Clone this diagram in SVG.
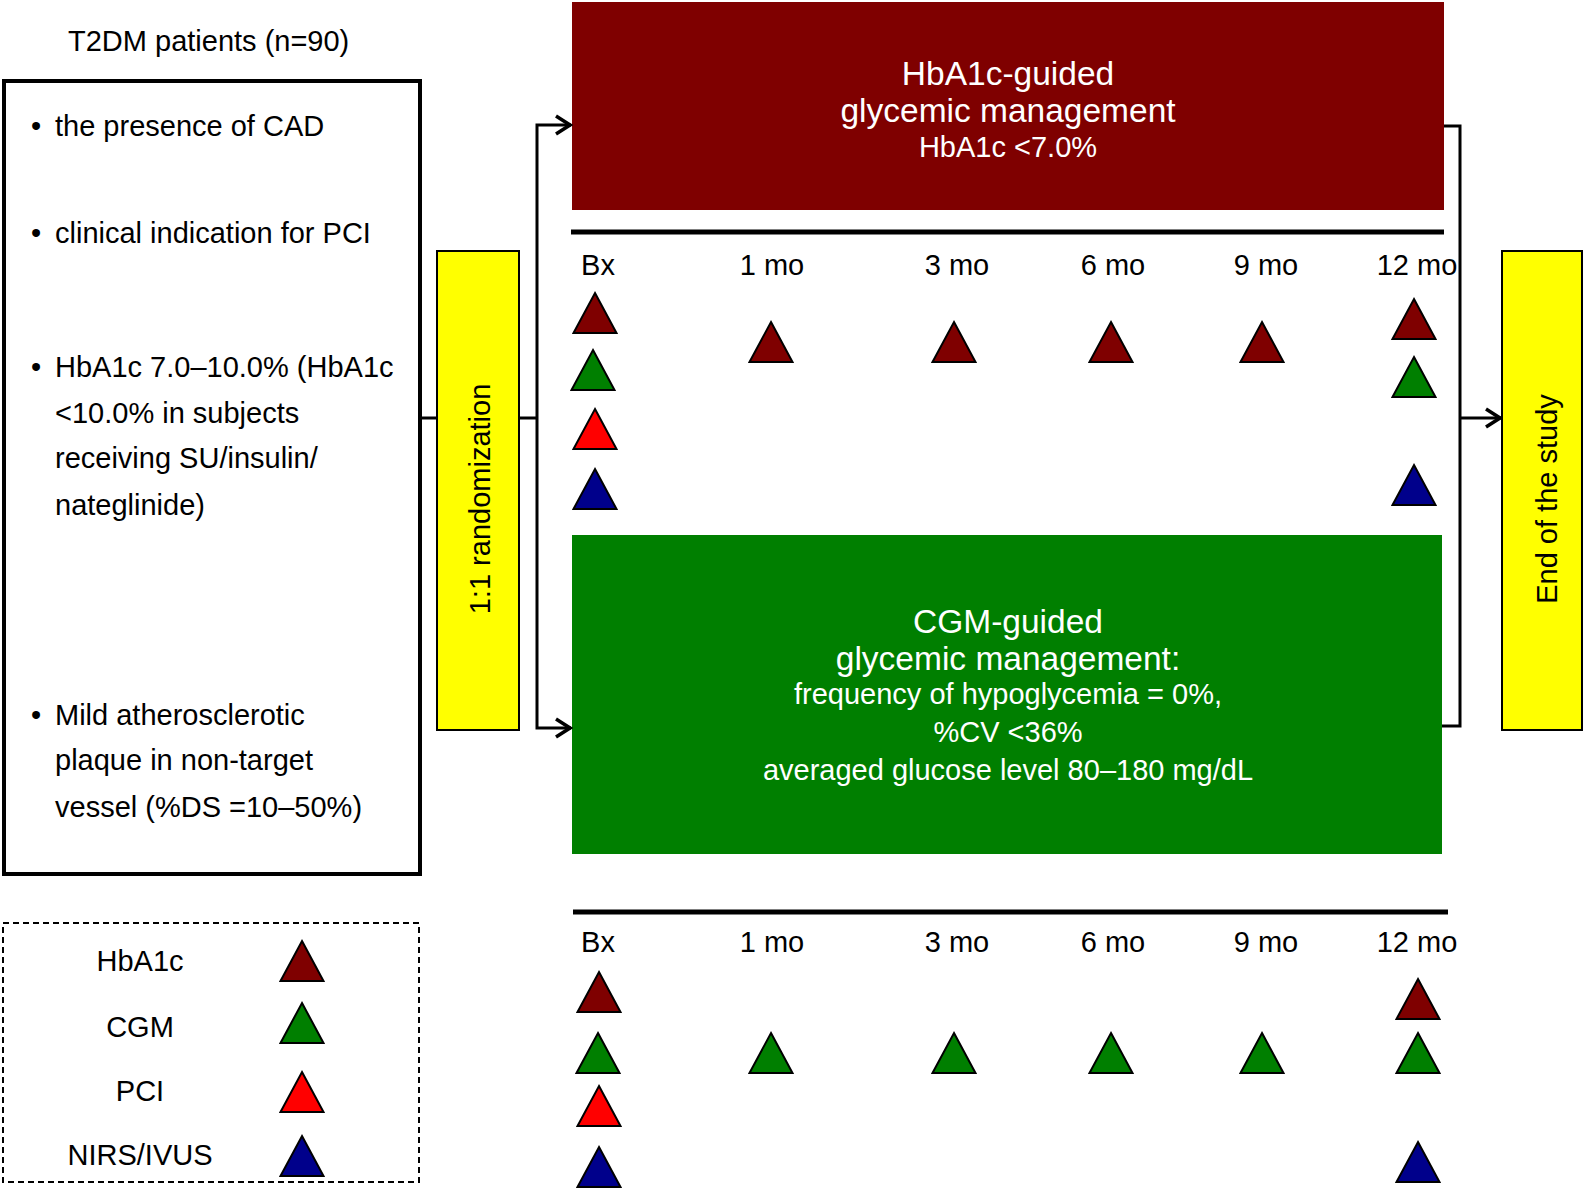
<svg xmlns="http://www.w3.org/2000/svg" xmlns:xlink="http://www.w3.org/1999/xlink" width="1584" height="1192" viewBox="0 0 1584 1192">
<style>
text{font-family:"Liberation Sans",Arial,Helvetica,sans-serif;fill:#000}
.t{font-size:29px}
.big{font-size:33.5px;fill:#fff}
.mid{font-size:29px;fill:#fff}
.c{text-anchor:middle}
.conn{fill:none;stroke:#000;stroke-width:3}
.yel{fill:#ffff00;stroke:#000;stroke-width:2}
.hb{fill:#7f0000}.cg{fill:#007f00}.pc{fill:#ff0000}.nv{fill:#00008b}
.tri{stroke:#000;stroke-width:2;stroke-linejoin:miter}
</style>
<defs>
<path id="tri" class="tri" d="M0,-40 L21.5,0 L-21.5,0 Z"/>
<marker id="arr" markerUnits="userSpaceOnUse" markerWidth="20" markerHeight="24" viewBox="0 0 20 24" refX="18" refY="12" orient="auto">
<path d="M3,3 L17,12 L3,21" fill="none" stroke="#000" stroke-width="3.5"/>
</marker>
</defs>
<rect width="1584" height="1192" fill="#fff"/>

<g id="patients">
<text class="t" x="68" y="51">T2DM patients (n=90)</text>
<rect x="4" y="81" width="416" height="793" fill="none" stroke="#000" stroke-width="4"/>
<text class="t" x="31" y="136">•</text>
<text class="t" x="55" y="136">the presence of CAD</text>
<text class="t" x="31" y="243">•</text>
<text class="t" x="55" y="243">clinical indication for PCI</text>
<text class="t" x="31" y="377">•</text>
<text class="t" x="55" y="377">HbA1c 7.0–10.0% (HbA1c</text>
<text class="t" x="55" y="423">&lt;10.0% in subjects</text>
<text class="t" x="55" y="468">receiving SU/insulin/</text>
<text class="t" x="55" y="515">nateglinide)</text>
<text class="t" x="31" y="725">•</text>
<text class="t" x="55" y="725">Mild atherosclerotic</text>
<text class="t" x="55" y="770">plaque in non-target</text>
<text class="t" x="55" y="817">vessel (%DS =10–50%)</text>
</g>

<g id="randomization">
<rect class="yel" x="437" y="251" width="82" height="479"/>
<text class="t c" transform="translate(490,499) rotate(-90)">1:1 randomization</text>
</g>

<g id="hba1c-arm">
<rect x="572" y="2" width="872" height="208" fill="#7f0000"/>
<text class="big c" x="1008" y="85">HbA1c-guided</text>
<text class="big c" x="1008" y="122">glycemic management</text>
<text class="mid c" x="1008" y="157">HbA1c &lt;7.0%</text>
</g>

<g id="cgm-arm">
<rect x="572" y="535" width="870" height="319" fill="#007f00"/>
<text class="big c" x="1008" y="633">CGM-guided</text>
<text class="big c" x="1008" y="670">glycemic management:</text>
<text class="mid c" x="1008" y="704">frequency of hypoglycemia = 0%,</text>
<text class="mid c" x="1008" y="742">%CV &lt;36%</text>
<text class="mid c" x="1008" y="780">averaged glucose level 80–180 mg/dL</text>
</g>

<g id="end">
<rect class="yel" x="1502" y="251" width="80" height="479"/>
<text class="t c" transform="translate(1557,499) rotate(-90)">End of the study</text>
</g>

<g id="timeline-top">
<line x1="571" y1="232" x2="1444" y2="232" stroke="#000" stroke-width="5"/>
<text class="t c" x="598" y="275">Bx</text>
<text class="t c" x="772" y="275">1 mo</text>
<text class="t c" x="957" y="275">3 mo</text>
<text class="t c" x="1113" y="275">6 mo</text>
<text class="t c" x="1266" y="275">9 mo</text>
<text class="t c" x="1417" y="275">12 mo</text>
<use href="#tri" class="hb" x="595" y="333"/>
<use href="#tri" class="cg" x="593" y="390"/>
<use href="#tri" class="pc" x="595" y="449"/>
<use href="#tri" class="nv" x="595" y="509"/>
<use href="#tri" class="hb" x="771" y="362"/>
<use href="#tri" class="hb" x="954" y="362"/>
<use href="#tri" class="hb" x="1111" y="362"/>
<use href="#tri" class="hb" x="1262" y="362"/>
<use href="#tri" class="hb" x="1414" y="339"/>
<use href="#tri" class="cg" x="1414" y="397"/>
<use href="#tri" class="nv" x="1414" y="505"/>
</g>

<g id="timeline-bottom">
<line x1="573" y1="912" x2="1448" y2="912" stroke="#000" stroke-width="5"/>
<text class="t c" x="598" y="952">Bx</text>
<text class="t c" x="772" y="952">1 mo</text>
<text class="t c" x="957" y="952">3 mo</text>
<text class="t c" x="1113" y="952">6 mo</text>
<text class="t c" x="1266" y="952">9 mo</text>
<text class="t c" x="1417" y="952">12 mo</text>
<use href="#tri" class="hb" x="599" y="1012"/>
<use href="#tri" class="cg" x="598" y="1073"/>
<use href="#tri" class="pc" x="599" y="1126"/>
<use href="#tri" class="nv" x="599" y="1187"/>
<use href="#tri" class="cg" x="771" y="1073"/>
<use href="#tri" class="cg" x="954" y="1073"/>
<use href="#tri" class="cg" x="1111" y="1073"/>
<use href="#tri" class="cg" x="1262" y="1073"/>
<use href="#tri" class="hb" x="1418" y="1019"/>
<use href="#tri" class="cg" x="1418" y="1073"/>
<use href="#tri" class="nv" x="1418" y="1182"/>
</g>

<g id="legend">
<rect x="3" y="923" width="416" height="259" fill="none" stroke="#000" stroke-width="2" stroke-dasharray="6 4"/>
<text class="t c" x="140" y="971">HbA1c</text>
<text class="t c" x="140" y="1037">CGM</text>
<text class="t c" x="140" y="1101">PCI</text>
<text class="t c" x="140" y="1165">NIRS/IVUS</text>
<use href="#tri" class="hb" x="302" y="981"/>
<use href="#tri" class="cg" x="302" y="1043"/>
<use href="#tri" class="pc" x="302" y="1112"/>
<use href="#tri" class="nv" x="302" y="1176"/>
</g>

<g id="connectors">
<line class="conn" x1="420" y1="418" x2="437" y2="418"/>
<line class="conn" x1="519" y1="418" x2="537" y2="418"/>
<path class="conn" d="M537,418 V125 H571" marker-end="url(#arr)"/>
<path class="conn" d="M537,418 V728 H571" marker-end="url(#arr)"/>
<path class="conn" d="M1444,126 H1460 V726 H1442"/>
<path class="conn" d="M1460,418 H1501" marker-end="url(#arr)"/>
</g>
</svg>
